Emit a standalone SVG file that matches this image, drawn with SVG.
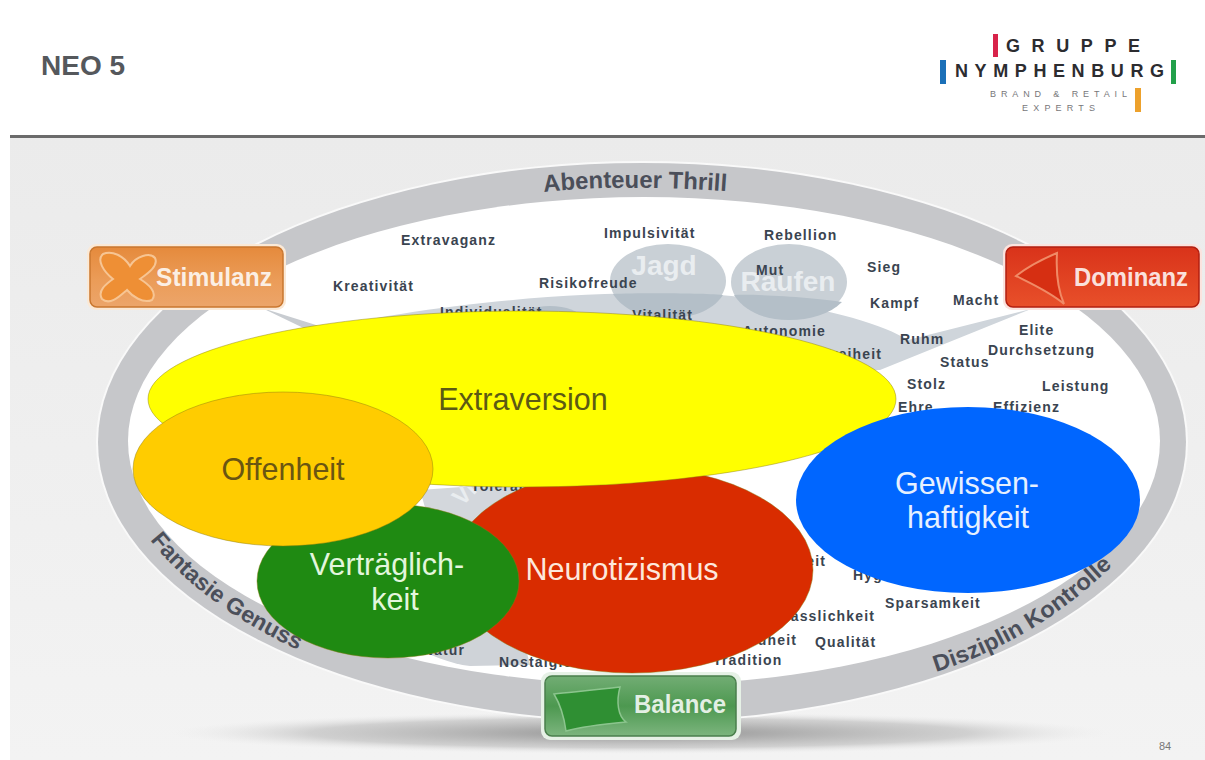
<svg xmlns="http://www.w3.org/2000/svg" width="1205" height="760" viewBox="0 0 1205 760">
<style>
.w{font-family:"Liberation Sans",Arial,sans-serif;font-size:14px;font-weight:700;fill:#3a4450;letter-spacing:1.15px}
.we{text-anchor:end}
.r{font-family:"Liberation Sans",Arial,sans-serif;font-weight:700;fill:#4b4f5a}
.n{font-family:"Liberation Sans",Arial,sans-serif;font-size:30.500px;text-anchor:middle}
.b{font-family:"Liberation Sans",Arial,sans-serif;font-size:26px;font-weight:700;fill:#fff;fill-opacity:.85}
.e{stroke:#8a7a10;stroke-opacity:.45;stroke-width:1}
.logo{font-family:"Liberation Sans",Arial,sans-serif;font-weight:700;fill:#2c2c30;font-size:18px}
.tag{font-family:"Liberation Sans",Arial,sans-serif;font-size:9px;fill:#77777a}
.s{font-family:"Liberation Sans",Arial,sans-serif;font-weight:700;fill:#e9edf0}
</style>
<defs>
<linearGradient id="bg" x1="0" y1="0" x2="0" y2="1"><stop offset="0" stop-color="#ebebeb"/><stop offset="1" stop-color="#f3f3f3"/></linearGradient>
<radialGradient id="sh"><stop offset="0" stop-color="#8f8f8f"/><stop offset=".7" stop-color="#bdbdbd" stop-opacity=".65"/><stop offset="1" stop-color="#e8e8e8" stop-opacity="0"/></radialGradient>
<linearGradient id="org" x1="0" y1="0" x2="0" y2="1"><stop offset="0" stop-color="#e58a3c"/><stop offset=".55" stop-color="#eb9c58"/><stop offset="1" stop-color="#eca56a"/></linearGradient>
<linearGradient id="red" x1="0" y1="0" x2="0" y2="1"><stop offset="0" stop-color="#d9331a"/><stop offset="1" stop-color="#e8502a"/></linearGradient>
<linearGradient id="grn" x1="0" y1="0" x2="0" y2="1"><stop offset="0" stop-color="#72ad74"/><stop offset=".5" stop-color="#4d9850"/><stop offset="1" stop-color="#7cb57e"/></linearGradient>
<path id="pf" d="M150,540 C190,590 240,625 330,665"/>
<path id="pd" d="M936,672 C1005,650 1070,612 1130,548"/>
<path id="pa" d="M544,192 C600,186 670,186 760,194"/>
</defs>
<rect width="1205" height="760" fill="#fff"/>
<rect x="10" y="137" width="1195" height="623" fill="url(#bg)"/>
<rect x="10" y="135" width="1195" height="3" fill="#6b6b6b"/>
<g id="title"><text x="41" y="75" font-family="'Liberation Sans',Arial,sans-serif" font-size="28" font-weight="700" fill="#55585c">NEO 5</text></g>
<g id="logo">
<rect x="993" y="34" width="5" height="23" fill="#d8234a"/><rect x="940" y="60" width="6" height="24" fill="#1b70b8"/><rect x="1171" y="60" width="5" height="24" fill="#22a04a"/><rect x="1135" y="88" width="6" height="24" fill="#eda12c"/>
<text x="1006" y="52" class="logo" textLength="134">GRUPPE</text>
<text x="955" y="77" class="logo" textLength="209">NYMPHENBURG</text>
<text x="990" y="97" class="tag" textLength="137">BRAND &amp; RETAIL</text>
<text x="1022" y="111" class="tag" textLength="73">EXPERTS</text>
</g>
<ellipse id="shadow" cx="640" cy="733" rx="470" ry="21" fill="url(#sh)"/>
<g id="ring">
<ellipse cx="642" cy="442" rx="546" ry="281" fill="#f9f9f9"/>
<ellipse cx="642" cy="442" rx="544" ry="279" fill="#c6c7ca"/>
<ellipse cx="644" cy="441" rx="516" ry="244" fill="#fff"/>
</g>
<g id="sectors">
<path d="M262,308 L335,331 L320,336 Z" fill="#c8ccd1"/>
<path d="M300,335 C430,300 620,288 720,295 C810,303 880,322 908,340 L1031,309 L880,370 L300,400 Z" fill="#cfd5db"/>
<ellipse cx="550" cy="318" rx="30" ry="12" fill="#b4bfc8"/>
<ellipse cx="668" cy="281" rx="58" ry="37" fill="#c9d0d6"/>
<ellipse cx="789" cy="282" rx="58" ry="38" fill="#c9d0d6"/>
<path d="M613,294 C635,293 700,293 723,295 C712,312 690,318 668,318 C645,318 625,312 613,294Z" fill="#b4bfc8"/>
<path d="M734,295 C760,294 820,298 842,302 C830,314 810,320 789,320 C765,320 745,312 734,295Z" fill="#b4bfc8"/>
<path d="M420,490 L560,480 L500,600 L440,560 Z" fill="#d3d7dc"/>
<path d="M410,645 L520,625 L530,665 L470,666 C450,664 430,655 410,645Z" fill="#cfd3d8"/>
<text class="s" x="664" y="275" text-anchor="middle" font-size="28">Jagd</text>
<text class="s" x="788" y="291" text-anchor="middle" font-size="28">Raufen</text>
<text class="s" x="462" y="507" font-size="24" transform="rotate(-45 462 507)">Vl</text>
</g>
<g id="words">
<text class="w" x="401" y="245">Extravaganz</text>
<text class="w" x="604" y="238">Impulsivität</text>
<text class="w" x="764" y="240">Rebellion</text>
<text class="w" x="333" y="291">Kreativität</text>
<text class="w" x="539" y="288">Risikofreude</text>
<text class="w" x="756" y="275">Mut</text>
<text class="w" x="867" y="272">Sieg</text>
<text class="w" x="870" y="308">Kampf</text>
<text class="w" x="953" y="305">Macht</text>
<text class="w" x="1019" y="335">Elite</text>
<text class="w" x="988" y="355">Durchsetzung</text>
<text class="w" x="940" y="367">Status</text>
<text class="w" x="900" y="344">Ruhm</text>
<text class="w" x="907" y="389">Stolz</text>
<text class="w" x="1042" y="391">Leistung</text>
<text class="w" x="898" y="412">Ehre</text>
<text class="w" x="993" y="412">Effizienz</text>
<text class="w" x="440" y="317">Individualität</text>
<text class="w we" x="693" y="320">Vitalität</text>
<text class="w we" x="826" y="336">Autonomie</text>
<text class="w we" x="882" y="359">Freiheit</text>
<text class="w" x="471" y="491">Toleranz</text>
<text class="w we" x="826" y="566">Sicherheit</text>
<text class="w" x="853" y="580">Hygiene</text>
<text class="w" x="885" y="608">Sparsamkeit</text>
<text class="w we" x="875" y="621">Zuverlässlichkeit</text>
<text class="w" x="815" y="647">Qualität</text>
<text class="w we" x="797" y="645">Gesundheit</text>
<text class="w" x="713" y="665">Tradition</text>
<text class="w" x="499" y="667">Nostalgie</text>
<text class="w we" x="465" y="655">Natur</text>
</g>
<g id="ring-labels">
<text class="r" font-size="24" textLength="183" lengthAdjust="spacingAndGlyphs"><textPath href="#pa">Abenteuer Thrill</textPath></text>
<text class="r" font-size="23" textLength="186" lengthAdjust="spacingAndGlyphs"><textPath href="#pf">Fantasie Genuss</textPath></text>
<text class="r" font-size="23" textLength="208" lengthAdjust="spacingAndGlyphs"><textPath href="#pd">Disziplin Kontrolle</textPath></text>
</g>
<g id="stimulanz">
<rect x="87" y="244" width="199" height="66" rx="9" fill="#fbe9d6"/>
<rect x="90" y="247" width="193" height="60" rx="7" fill="url(#org)" stroke="#c9772f" stroke-width="1.500"/>
<path d="M103,254 C112,250 124,256 130,266 C136,256 150,252 155,258 C159,266 147,274 140,279 C148,284 158,292 152,300 C143,304 132,296 127,290 C120,296 110,306 102,299 C97,291 106,284 113,279 C104,272 96,260 103,254Z" fill="#ee8f35" stroke="#f7c593" stroke-width="2"/>
<text class="b" x="156" y="286" textLength="116" lengthAdjust="spacingAndGlyphs">Stimulanz</text>
</g>
<g id="dominanz">
<rect x="1003" y="244" width="199" height="66" rx="9" fill="#fbe3de"/>
<rect x="1006" y="247" width="193" height="60" rx="7" fill="url(#red)" stroke="#b31f10" stroke-width="1.500"/>
<path d="M1016,276 C1030,265 1045,258 1057,253 C1056,270 1058,290 1064,304 C1050,292 1032,284 1016,276Z" fill="#d62f12" stroke="#f08a66" stroke-width="2"/>
<text class="b" x="1074" y="286" textLength="114" lengthAdjust="spacingAndGlyphs">Dominanz</text>
</g>
<g id="balance">
<rect x="541" y="672" width="200" height="68" rx="9" fill="#e6f1e6"/>
<rect x="545" y="676" width="191" height="60" rx="7" fill="url(#grn)" stroke="#4a7f4c" stroke-width="1.500"/>
<path d="M554,694 C572,692 596,690 620,687 C616,702 618,716 626,722 C604,724 584,726 566,731 C564,716 560,704 554,694Z" fill="#2f8f33" stroke="#8cc58e" stroke-width="1.500"/>
<text class="b" x="634" y="713" textLength="92" lengthAdjust="spacingAndGlyphs">Balance</text>
</g>
<g id="neurotizismus"><ellipse class="e" cx="632" cy="570" rx="181" ry="103" fill="#d92c00"/><text class="n" x="622" y="580" fill="#fde8dc">Neurotizismus</text></g>
<g id="vertraeglichkeit"><ellipse class="e" cx="388" cy="581" rx="131" ry="77" fill="#1f8a12"/><text class="n" x="387" y="575" fill="#e3f6dd">Verträglich-</text><text class="n" x="395" y="610" fill="#e3f6dd">keit</text></g>
<g id="extraversion"><ellipse class="e" cx="522" cy="399" rx="374" ry="88" fill="#ffff00"/><text class="n" x="523" y="410" fill="#5c5a14">Extraversion</text></g>
<g id="offenheit"><ellipse class="e" cx="283" cy="469" rx="150" ry="77" fill="#ffcc00"/><text class="n" x="283" y="480" fill="#6a5512">Offenheit</text></g>
<g id="gewissenhaftigkeit"><ellipse cx="968" cy="500" rx="172" ry="93" fill="#0066ff"/><text class="n" x="967" y="494" fill="#e6f0ff">Gewissen-</text><text class="n" x="968" y="528" fill="#e6f0ff">haftigkeit</text></g>
<text id="page" x="1159" y="750" font-family="'Liberation Sans',Arial,sans-serif" font-size="11" fill="#777">84</text>
</svg>
